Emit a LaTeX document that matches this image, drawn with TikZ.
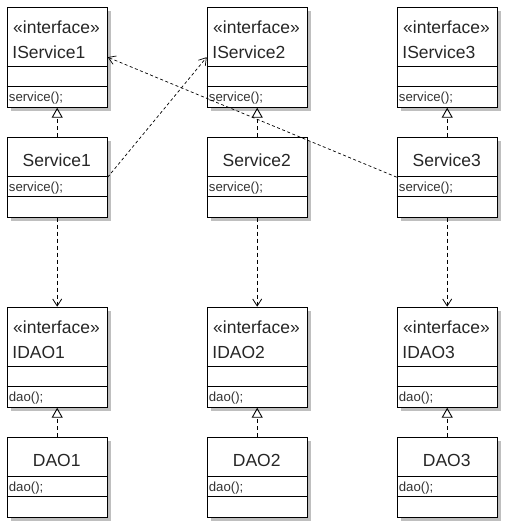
\documentclass[tikz,border=0pt]{standalone}
\usepackage{fontspec}
\setmainfont{Liberation Sans}
\usetikzlibrary{arrows.meta}
\tikzset{
  x=1pt, y=-1pt,
  shadowc/.style={fill=black!25},
  umlbox/.style={draw, line width=1pt, fill=white, minimum width=100pt, inner sep=0pt, anchor=north west},
  boxline/.style={line width=1pt},
  bigtxt/.style={anchor=base west, inner sep=0pt, font=\fontsize{17.5}{20}\selectfont, text=black!85},
  bigctr/.style={anchor=base, inner sep=0pt, font=\fontsize{17.5}{20}\selectfont, text=black!85},
  smalltxt/.style={anchor=base west, inner sep=0pt, font=\fontsize{13.2}{15}\selectfont, text=black!80},
  realiz/.style={dashed, dash pattern=on 4pt off 3pt, line width=0.8pt, -{Triangle[open, length=10pt, width=11pt, line width=0.9pt]}},
  depend/.style={dashed, dash pattern=on 4pt off 3pt, line width=0.8pt, -{Straight Barb[length=7pt, width=9pt, line width=0.8pt]}},
  cross/.style={dashed, dash pattern=on 3pt off 2.5pt, line width=0.7pt, -{Straight Barb[length=7pt, width=9pt, line width=0.7pt]}},
}
\newcommand\ifacebox[5]{%
  \fill[shadowc] (#2+4,#3+4) rectangle (#2+104.5,#3+104.5);
  \node[umlbox, minimum height=100pt] (#1) at (#2,#3) {};
  \draw[boxline] (#2,#3+60) -- (#2+100,#3+60);
  \draw[boxline] (#2,#3+80) -- (#2+100,#3+80);
  \node[bigtxt] (#1-st) at (#2+6.3,#3+26.5) {«interface»};
  \node[bigtxt] (#1-nm) at (#2+5.5,#3+51.5) {#4};
  \node[smalltxt] (#1-op) at (#2+2,#3+94.5) {#5};
}
\newcommand\implbox[5]{%
  \fill[shadowc] (#2+4,#3+4) rectangle (#2+104.5,#3+84.5);
  \node[umlbox, minimum height=80pt] (#1) at (#2,#3) {};
  \draw[boxline] (#2,#3+40) -- (#2+100,#3+40);
  \draw[boxline] (#2,#3+60) -- (#2+100,#3+60);
  \node[bigctr] (#1-nm) at (#2+50,#3+29.5) {#4};
  \node[smalltxt] (#1-op) at (#2+2,#3+54.5) {#5};
}
\begin{document}
\begin{tikzpicture}
\useasboundingbox (0,0) rectangle (507,525);
\ifacebox{is1}{6.7}{6.7}{IService1}{service();}
\ifacebox{is2}{206.7}{6.7}{IService2}{service();}
\ifacebox{is3}{396.7}{6.7}{IService3}{service();}
\implbox{s1}{6.7}{136.7}{Service1}{service();}
\implbox{s2}{206.7}{136.7}{Service2}{service();}
\implbox{s3}{396.7}{136.7}{Service3}{service();}
\ifacebox{id1}{6.7}{306.7}{IDAO1}{dao();}
\ifacebox{id2}{206.7}{306.7}{IDAO2}{dao();}
\ifacebox{id3}{396.7}{306.7}{IDAO3}{dao();}
\implbox{d1}{6.7}{436.7}{DAO1}{dao();}
\implbox{d2}{206.7}{436.7}{DAO2}{dao();}
\implbox{d3}{396.7}{436.7}{DAO3}{dao();}
\foreach \i in {1,2,3} {
  \draw[realiz] (s\i.north) -- (is\i.south);
  \draw[depend] (s\i.south) -- (id\i.north);
  \draw[realiz] (d\i.north) -- (id\i.south);
}
\draw[cross] (s1.east) -- (is2.west);
\draw[cross] (s3.west) -- (is1.east);
\end{tikzpicture}
\end{document}
